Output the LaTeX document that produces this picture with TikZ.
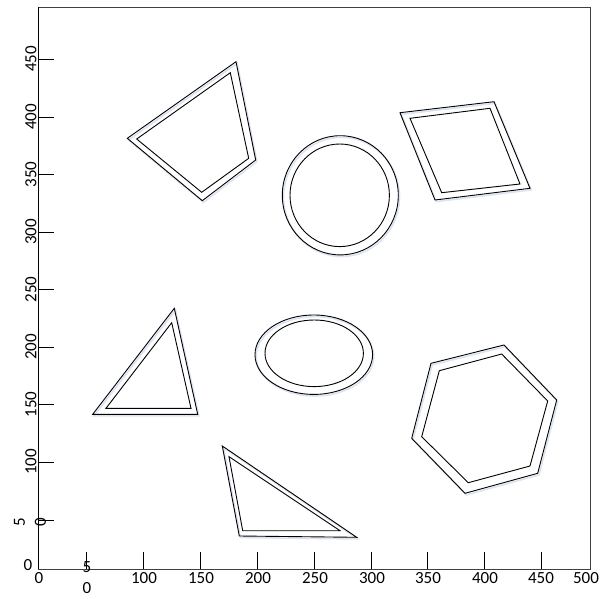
\documentclass[tikz,border=0pt]{standalone}
\usepackage{fontspec}
\setmainfont{Carlito}
\begin{document}
\begin{tikzpicture}[x=1pt,y=-1pt,
  shp/.style={draw=black, line width=0.9pt, line join=miter},
  shd/.style={draw={rgb,255:red,220;green,228;blue,242}, line width=1.6pt, shift={(1.2,1.6)}},
  axl/.style={draw=black!75, line width=0.9pt},
  tick/.style={draw=black, line width=0.9pt},
  lbl/.style={font=\fontsize{17}{21}\selectfont, inner sep=0pt, align=center},
  ylbl/.style={lbl, rotate=90}]
\useasboundingbox (0,0) rectangle (603,598);
\fill[white] (0,0) rectangle (603,598);
% frame
\draw[axl] (38,7) rectangle (590,569);
\draw[draw=black, line width=0.9pt] (38,7) -- (38,569);
% x ticks
\foreach \xx in {86.7,143.7,200.5,257.5,314.2,371,427.7,484.7,541.3}{
  \draw[tick] (\xx,569) -- (\xx,552);}
% y ticks
\foreach \yy in {59,117,174.5,232,289.5,347,404.5,462,520.5}{
  \draw[tick] (38,\yy) -- (54,\yy);}
% x labels
\node[lbl] (x0) at (39,578) {0};
\node[lbl] (x50) at (87,577.5) {5\\0};
\node[lbl] (x100) at (144,578) {100};
\node[lbl] (x150) at (201,578) {150};
\node[lbl] (x200) at (258,578) {200};
\node[lbl] (x250) at (315,578) {250};
\node[lbl] (x300) at (372,578) {300};
\node[lbl] (x350) at (428,578) {350};
\node[lbl] (x400) at (485,578) {400};
\node[lbl] (x450) at (541,578) {450};
\node[lbl] (x500) at (586,578) {500};
% y labels
\node[lbl] (y0) at (28,565) {0};
\node[ylbl] (y50) at (30,522) {5\\0};
\node[ylbl] (y100) at (31,462) {100};
\node[ylbl] (y150) at (31,404.5) {150};
\node[ylbl] (y200) at (31,347) {200};
\node[ylbl] (y250) at (31,289.5) {250};
\node[ylbl] (y300) at (31,232) {300};
\node[ylbl] (y350) at (31,174.5) {350};
\node[ylbl] (y400) at (31,117) {400};
\node[ylbl] (y450) at (31,59) {450};
% shadows
\draw[shd] (236,61.7) -- (255.7,160) -- (202.3,200.7) -- (127.3,138.3) -- cycle;
\draw[shd] (340.3,195.3) ellipse [x radius=58, y radius=59.6];
\draw[shd] (400,112.7) -- (494,101.7) -- (530,188.3) -- (435,200) -- cycle;
\draw[shd] (174.3,308.3) -- (197.7,414.3) -- (92.7,414.3) -- cycle;
\draw[shd] (313.8,354.7) ellipse [x radius=58.8, y radius=39.7];
\draw[shd] (431,363.3) -- (504,345) -- (556.7,400) -- (537.7,473.3) -- (465,493.3) -- (411.7,438.3) -- cycle;
\draw[shd] (222.3,446) -- (356.7,537.3) -- (239.3,536) -- cycle;
% quadrilateral
\draw[shp] (236,61.7) -- (255.7,160) -- (202.3,200.7) -- (127.3,138.3) -- cycle;
\draw[shp] (230.3,72.7) -- (248.7,158.3) -- (201.7,192.3) -- (136.7,139) -- cycle;
% circle
\draw[shp] (340.3,195.3) ellipse [x radius=58, y radius=59.6];
\draw[shp] (339.7,195.3) ellipse [x radius=49.7, y radius=51.3];
% parallelogram
\draw[shp] (400,112.7) -- (494,101.7) -- (530,188.3) -- (435,200) -- cycle;
\draw[shp] (410,118.3) -- (490,108.3) -- (520,184) -- (441.7,192.7) -- cycle;
% triangle 1
\draw[shp] (174.3,308.3) -- (197.7,414.3) -- (92.7,414.3) -- cycle;
\draw[shp] (171.7,322.7) -- (191,408.3) -- (106,408.3) -- cycle;
% ellipse
\draw[shp] (313.8,354.7) ellipse [x radius=58.8, y radius=39.7];
\draw[shp] (314.2,353.3) ellipse [x radius=49.2, y radius=33.3];
% hexagon
\draw[shp] (431,363.3) -- (504,345) -- (556.7,400) -- (537.7,473.3) -- (465,493.3) -- (411.7,438.3) -- cycle;
\draw[shp] (439.3,370.7) -- (501.7,354) -- (547.7,401) -- (530,466) -- (468.3,482.7) -- (421.7,436.7) -- cycle;
% triangle 2
\draw[shp] (222.3,446) -- (356.7,537.3) -- (239.3,536) -- cycle;
\draw[shp] (229,456.7) -- (340,530.7) -- (242.7,530.7) -- cycle;
\end{tikzpicture}
\end{document}
